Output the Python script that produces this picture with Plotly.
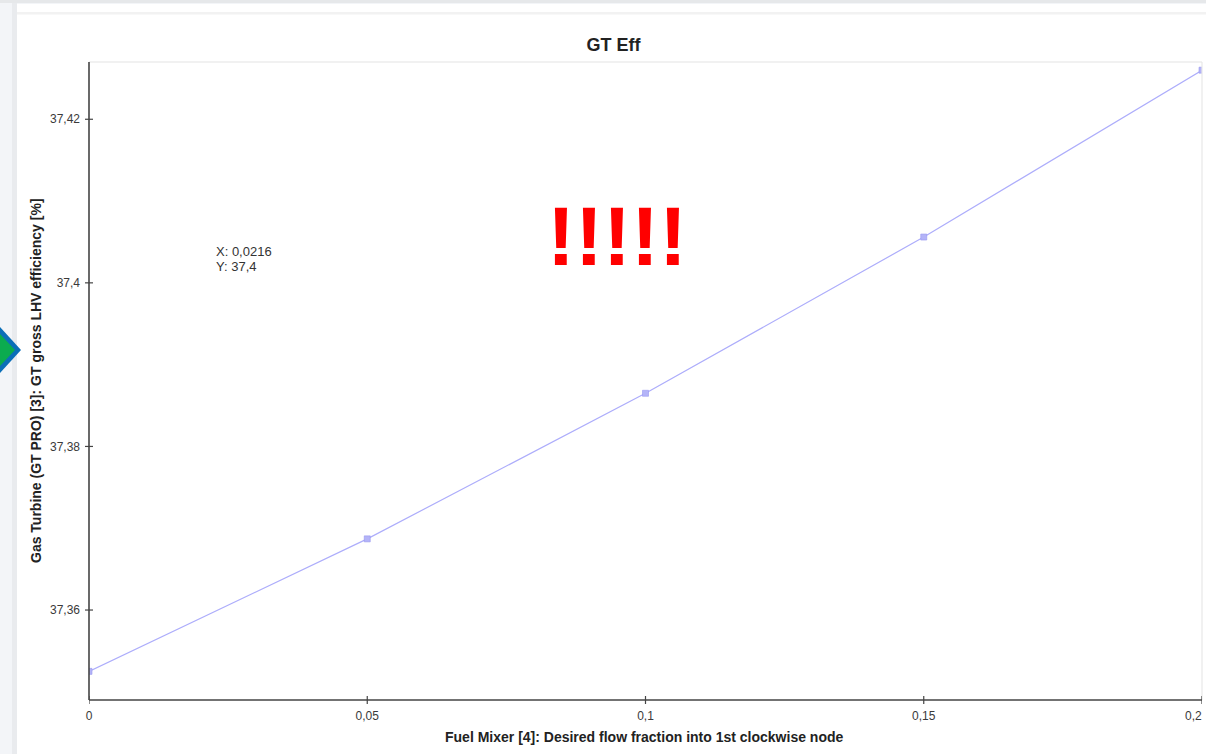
import plotly.graph_objects as go

fraction = [0, 0.05, 0.1, 0.15, 0.2]
efficiency = [37.3525, 37.3687, 37.3865, 37.4056, 37.4260]
x_ticks = [0, 0.05, 0.1, 0.15, 0.2]
y_ticks = [37.36, 37.38, 37.40, 37.42]
x_labels = ["0", "0,05", "0,1", "0,15", ""]
y_labels = ["37,36", "37,38", "37,4", "37,42"]
last_x_label = "0,2"
W, H = 1206, 754
FONT = "Liberation Sans"
L, R, T, B = 89, 1202, 62, 700

def px(x): return (x - L) / (R - L)
def py(y): return (B - y) / (B - T)

def rect(x0, x1, y0, y1, color):
    return dict(type="rect", xref="paper", yref="paper", x0=px(x0), x1=px(x1), y0=py(y1), y1=py(y0),
                fillcolor=color, line_width=0, layer="below")

shapes = [
    rect(0, W, 0, H, "#f3f5f8"),
    rect(0, W, 0, 3, "#e6e8ea"),
    rect(12, 17, 3, H, "#e9ebee"),
    rect(17, W, 4, H, "#ffffff"),
    rect(17, W, 12, 14.5, "#f2f2f2"),
    # blue and green arrow at the left edge
    dict(type="path", xref="paper", yref="paper", layer="above", fillcolor="#0b6fb8", line_width=0,
         path=f"M {px(0)} {py(327)} L {px(21)} {py(350)} L {px(0)} {py(373)} Z"),
    dict(type="path", xref="paper", yref="paper", layer="above", fillcolor="#0bab4f", line_width=0,
         path=f"M {px(0)} {py(334)} L {px(15)} {py(350)} L {px(0)} {py(366)} Z"),
    dict(type="line", xref="paper", yref="paper", x0=px(L), x1=px(R), y0=py(T), y1=py(T), line=dict(color="#e4e4e4", width=1.2)),
    dict(type="line", xref="paper", yref="paper", x0=px(R), x1=px(R), y0=py(T), y1=py(B), line=dict(color="#e8e8e8", width=1.2)),
    dict(type="line", xref="paper", yref="paper", x0=px(L), x1=px(L), y0=py(T), y1=py(B), line=dict(color="#444444", width=1.6)),
    dict(type="line", xref="paper", yref="paper", x0=px(L), x1=px(R), y0=py(B), y1=py(B), line=dict(color="#444444", width=1.6)),
]
for v in x_ticks:
    shapes.append(dict(type="line", xref="x", yref="paper", x0=v, x1=v, y0=py(B + 4), y1=py(B - 4),
                       line=dict(color="#444444", width=1.2)))
for v in y_ticks:
    shapes.append(dict(type="line", xref="paper", yref="y", y0=v, y1=v, x0=px(L - 4), x1=px(L + 4),
                       line=dict(color="#444444", width=1.2)))

fig = go.Figure(go.Scatter(
    x=fraction, y=efficiency, mode="lines+markers",
    line=dict(color="#adadfb", width=1.2),
    marker=dict(symbol="square", size=6, color="#b4b4f8", line=dict(color="#9797f0", width=0.6)),
    hoverinfo="x+y", showlegend=False,
))
fig.update_layout(
    width=W, height=H, autosize=False,
    margin=dict(l=L, r=W - R, t=T, b=H - B, pad=0),
    paper_bgcolor="#ffffff", plot_bgcolor="rgba(0,0,0,0)",
    font=dict(family=FONT, size=12, color="#3a3a3a"),
    title=dict(text="<b>GT Eff</b>", x=613.5 / W, xanchor="center", y=1 - 45 / H, yanchor="middle",
               font=dict(family=FONT, size=18, color="#222222")),
    xaxis=dict(range=[0, 0.2], tickvals=x_ticks, ticktext=x_labels, ticks="", showgrid=False, zeroline=False,
               showline=False, tickfont=dict(size=12), ticklabelstandoff=7),
    yaxis=dict(range=[37.3490, 37.4270], tickvals=y_ticks, ticktext=y_labels, ticks="", showgrid=False, zeroline=False,
               showline=False, tickfont=dict(size=12), ticklabelstandoff=8),
    shapes=shapes,
    annotations=[
        dict(text=last_x_label, xref="paper", yref="paper", x=px(1204), y=py(715.5), xanchor="right", yanchor="middle",
             showarrow=False, font=dict(size=12, color="#3a3a3a")),
        dict(text="<b>Fuel Mixer [4]: Desired flow fraction into 1st clockwise node</b>", xref="paper", yref="paper",
             x=px(644), y=py(737), xanchor="center", yanchor="middle", showarrow=False, font=dict(size=14, color="#222222")),
        dict(text="<b>Gas Turbine (GT PRO) [3]: GT gross LHV efficiency [%]</b>", xref="paper", yref="paper",
             x=px(36), y=py(381), xanchor="center", yanchor="middle", textangle=-90, showarrow=False, font=dict(size=14, color="#222222")),
        dict(text="X: 0,0216", xref="paper", yref="paper", x=px(214), y=py(251), xanchor="left", yanchor="middle",
             showarrow=False, font=dict(size=13, color="#333333")),
        dict(text="Y: 37,4", xref="paper", yref="paper", x=px(214), y=py(266), xanchor="left", yanchor="middle",
             showarrow=False, font=dict(size=13, color="#333333")),
        dict(text="<b>!!!!!</b>", xref="paper", yref="paper", x=px(616.5), y=py(236), xanchor="center", yanchor="middle",
             showarrow=False, font=dict(size=84, color="#ff0000")),
    ],
)
fig.write_html("out.html", config=dict(displayModeBar=False), post_script="document.body.style.margin='0';")
